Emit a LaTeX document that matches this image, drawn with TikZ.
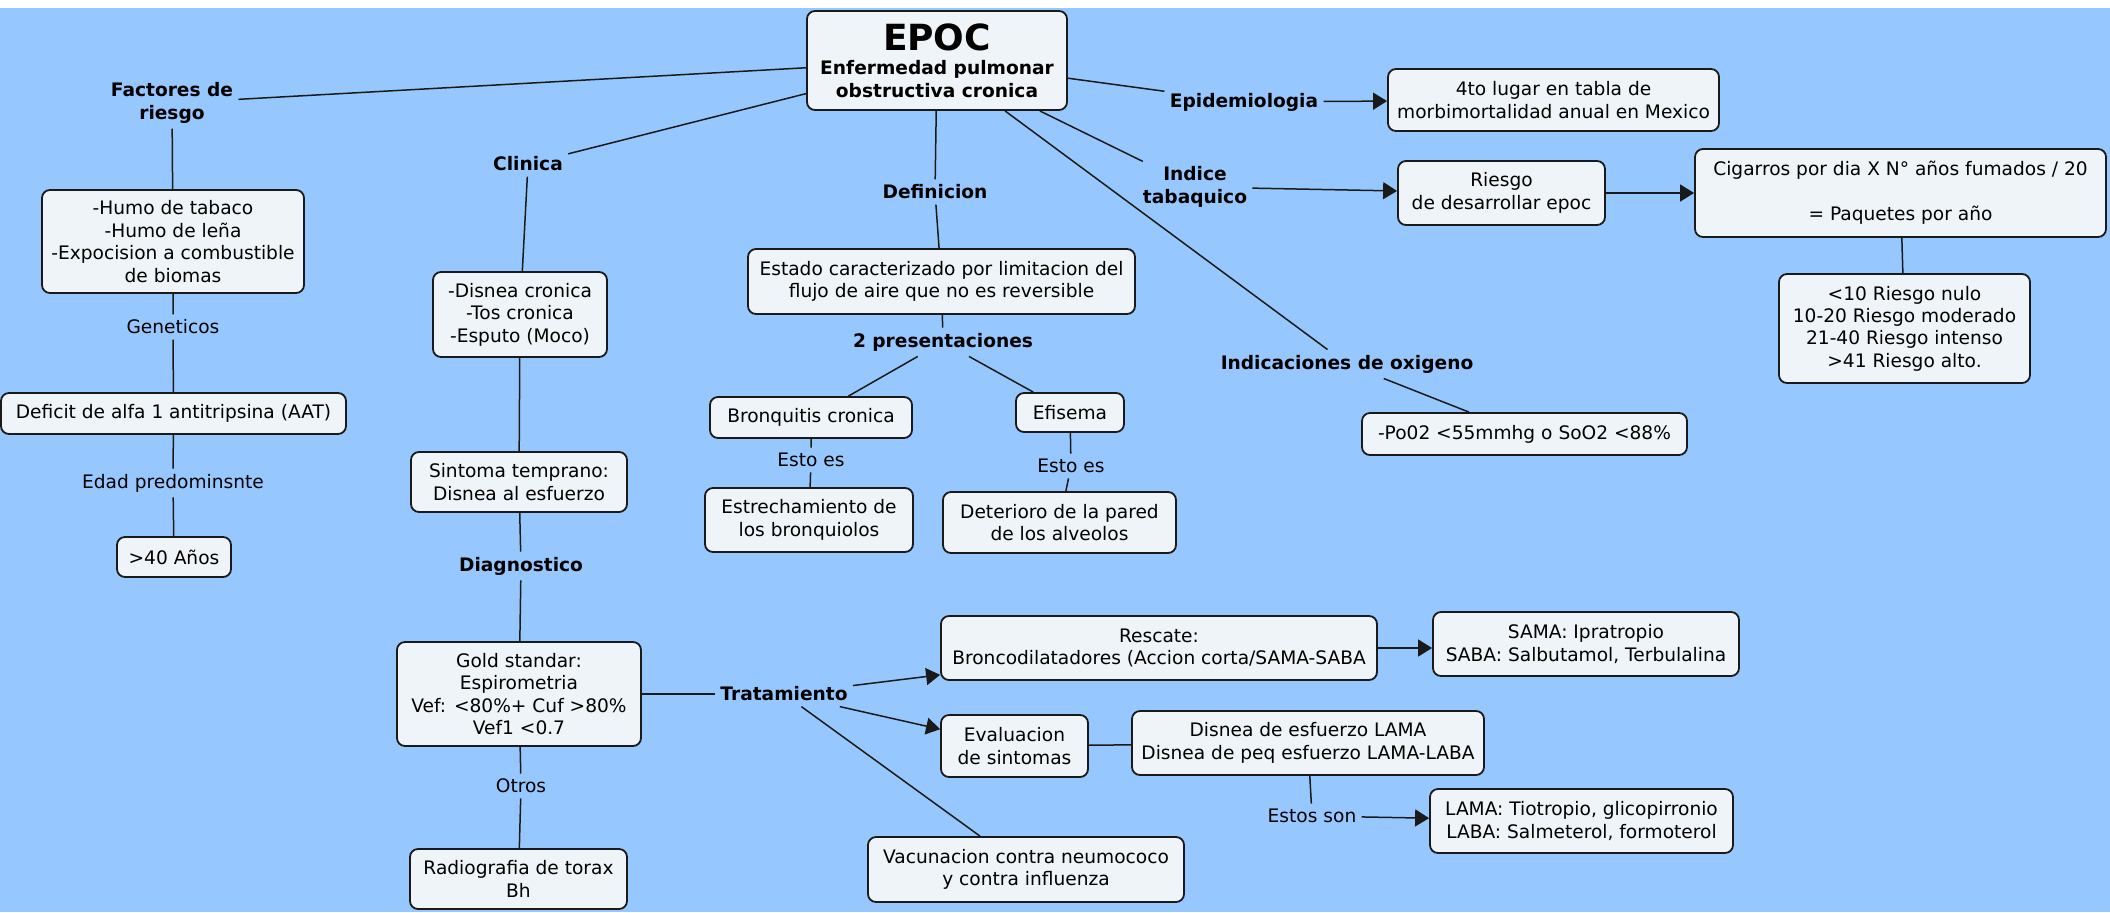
\documentclass[tikz,border=0pt]{standalone}
\usepackage{fontspec}
\setmainfont{DejaVu Sans}
\usetikzlibrary{arrows.meta,positioning}
\definecolor{Sky}{HTML}{96C8FF}
\definecolor{Card}{HTML}{EEF4F7}
\definecolor{Ink}{HTML}{1A1A1A}
\tikzset{
  >={Triangle[length=7pt,width=8.5pt]},
  txt/.style={font=\fontsize{9.3}{11.2}\selectfont},
  box/.style={txt,draw=Ink,line width=.9pt,fill=Card,rounded corners=4pt,align=center,inner sep=2pt},
  wh/.style 2 args={minimum width=#1*.5pt,minimum height=#2*.5pt},
  lbl/.style={txt,align=center,inner sep=2.5pt},
  hd/.style={lbl,font=\fontsize{9.3}{11.2}\selectfont\bfseries},
  link/.style={draw=Ink,line width=.75pt},
  arr/.style={link,->}
}
\begin{document}
\begin{tikzpicture}[x=.5pt,y=-.5pt]
  \fill[white] (0,0) rectangle (2110,912);
  \fill[Sky] (0,8) rectangle (2110,912);
  \useasboundingbox (0,0) rectangle (2110,912);

  \node[box,wh={260}{99},font=\fontsize{9.3}{11.2}\selectfont\bfseries] (epoc) at (937,60.5)
    {{\fontsize{18}{20}\selectfont EPOC}\\[1pt]Enfermedad pulmonar\\obstructiva cronica};

  \node[hd] (facto) at (172,103) {Factores de\\riesgo};
  \node[box,wh={262}{103}] (humo) at (173,241.5) {-Humo de tabaco\\-Humo de leña\\-Expocision a combustible\\de biomas};
  \node[lbl] (gene) at (173,327) {Geneticos};
  \node[box,wh={345}{41}] (aat) at (173.5,413.5) {Deficit de alfa 1 antitripsina (AAT)};
  \node[lbl] (edad) at (173,483) {Edad predominsnte};
  \node[box,wh={114}{40}] (anos) at (174,557) {>40 Años};

  \node[hd] (clin) at (528,164) {Clinica};
  \node[box,wh={174}{85}] (sintomas) at (520,314.5) {-Disnea cronica\\-Tos cronica\\-Esputo (Moco)};
  \node[box,wh={216}{60}] (temprano) at (519,482) {Sintoma temprano:\\Disnea al esfuerzo};
  \node[hd] (diag) at (521,566) {Diagnostico};
  \node[box,wh={244}{104}] (gold) at (519,694) {Gold standar:\\Espirometria\\Vef: <80\%+ Cuf >80\%\\Vef1 <0.7};
  \node[lbl] (otros) at (521,786) {Otros};
  \node[box,wh={217}{60}] (radio) at (518.5,879) {Radiografia de torax\\Bh};

  \node[hd] (trat) at (784,694) {Tratamiento};
  \node[box,wh={436}{64}] (rescate) at (1159,648) {Rescate:\\Broncodilatadores (Accion corta/SAMA-SABA};
  \node[box,wh={306}{64}] (sama) at (1586,644) {SAMA: Ipratropio\\SABA: Salbutamol, Terbulalina};
  \node[box,wh={147}{62}] (eval) at (1014.5,746) {Evaluacion\\de sintomas};
  \node[box,wh={352}{64}] (disnea) at (1308,743) {Disnea de esfuerzo LAMA\\Disnea de peq esfuerzo LAMA-LABA};
  \node[lbl] (estos) at (1312,816) {Estos son};
  \node[box,wh={303}{64}] (lama) at (1581.5,821) {LAMA: Tiotropio, glicopirronio\\LABA: Salmeterol, formoterol};
  \node[box,wh={316}{65}] (vacuna) at (1026,869.5) {Vacunacion contra neumococo\\y contra influenza};

  \node[hd] (defi) at (935,192) {Definicion};
  \node[box,wh={387}{65}] (estado) at (941.5,281.5) {Estado caracterizado por limitacion del\\flujo de aire que no es reversible};
  \node[hd] (pres) at (943,342) {2 presentaciones};
  \node[box,wh={202}{41}] (bronq) at (811,417.5) {Bronquitis cronica};
  \node[box,wh={108}{39}] (efis) at (1070,412.5) {Efisema};
  \node[lbl] (estoA) at (811,460) {Esto es};
  \node[box,wh={208}{64}] (estrecho) at (809,520) {Estrechamiento de\\los bronquiolos};
  \node[lbl] (estoB) at (1071,466) {Esto es};
  \node[box,wh={233}{61}] (pared) at (1059.5,522.5) {Deterioro de la pared\\de los alveolos};

  \node[hd] (epid) at (1244,102) {Epidemiologia};
  \node[box,wh={331}{62}] (lugar) at (1553.5,100) {4to lugar en tabla de\\morbimortalidad anual en Mexico};
  \node[hd] (indice) at (1195,187) {Indice\\tabaquico};
  \node[box,wh={207}{64}] (riesgo) at (1501.5,193) {Riesgo\\de desarrollar epoc};
  \node[box,wh={411}{88}] (cigarros) at (1900.5,193) {Cigarros por dia X N° años fumados / 20\\[\baselineskip]= Paquetes por año};
  \node[box,wh={251}{109}] (rango) at (1904.5,328.5) {<10 Riesgo nulo\\10-20 Riesgo moderado\\21-40 Riesgo intenso\\>41 Riesgo alto.};
  \node[hd] (oxi) at (1347,364) {Indicaciones de oxigeno};
  \node[box,wh={325}{42}] (po) at (1524.5,434) {-Po02 <55mmhg o SoO2 <88\%};

  \draw[link] (epoc) -- (facto);
  \draw[link] (facto) -- (humo) -- (gene) -- (aat) -- (edad) -- (anos);
  \draw[link] (epoc) -- (clin);
  \draw[link] (clin) -- (sintomas) -- (temprano) -- (diag) -- (gold) -- (otros) -- (radio);
  \draw[link] (gold) -- (trat);
  \draw[arr] (trat) -- (rescate);
  \draw[arr] (trat) -- (eval);
  \draw[link] (trat) -- (vacuna);
  \draw[arr] (rescate.east) -- (rescate.east -| sama.west);
  \draw[link] (eval) -- (disnea);
  \draw[link] (disnea) -- (estos);
  \draw[arr] (estos) -- (lama);
  \draw[link] (epoc) -- (defi) -- (estado) -- (pres);
  \draw[link] (pres) -- (bronq) -- (estoA) -- (estrecho);
  \draw[link] (pres) -- (efis) -- (estoB) -- (pared);
  \draw[link] (epoc) -- (epid);
  \draw[arr] (epid) -- (lugar);
  \draw[link] (epoc) -- (indice);
  \draw[arr] (indice) -- (riesgo);
  \draw[arr] (riesgo) -- (cigarros);
  \draw[link] (cigarros) -- (rango);
  \draw[link] (epoc) -- (oxi) -- (po);
\end{tikzpicture}
\end{document}
